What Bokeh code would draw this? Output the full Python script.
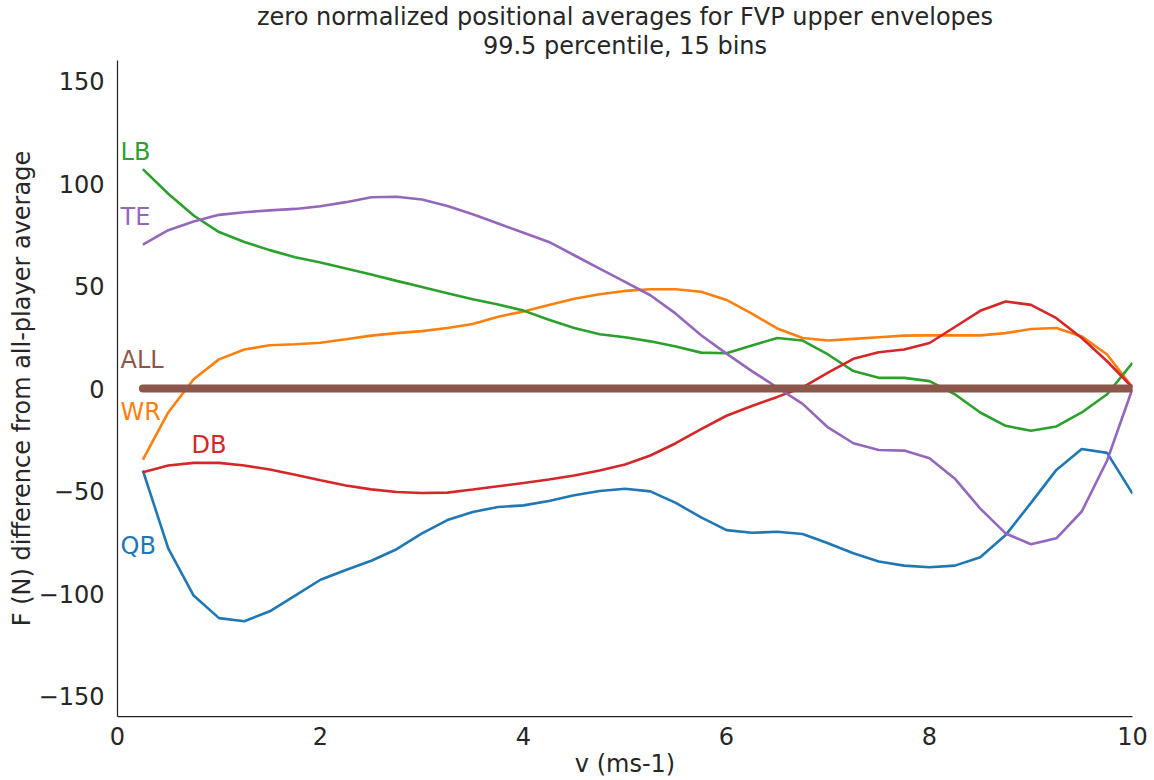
from bokeh.plotting import figure
from bokeh.models import Range1d, FixedTicker, Title
from bokeh.core.properties import value
from bokeh.embed import file_html
from bokeh.resources import INLINE

# ---- data ----
v = [0.25, 0.5, 0.75, 1.0, 1.25, 1.5, 1.75, 2.0, 2.25, 2.5,
     2.75, 3.0, 3.25, 3.5, 3.75, 4.0, 4.25, 4.5, 4.75, 5.0,
     5.25, 5.5, 5.75, 6.0, 6.25, 6.5, 6.75, 7.0, 7.25, 7.5,
     7.75, 8.0, 8.25, 8.5, 8.75, 9.0, 9.25, 9.5, 9.75, 10.0]

qb = [-40, -78, -101, -112, -113.5, -108.7, -101, -93.3, -88.5, -84,
      -78.4, -70.7, -64.2, -60.2, -57.8, -57, -54.9, -52.1, -50, -48.9,
      -50.2, -55.8, -62.9, -69.1, -70.4, -69.9, -71, -75.5, -80.4, -84.4,
      -86.4, -87.2, -86.4, -82.3, -71.5, -55.8, -39.7, -29.5, -31.4, -51.3]

wr = [-34.7, -11.7, 4.5, 14.2, 19, 21.1, 21.6, 22.3, 24, 25.8,
      27, 28, 29.5, 31.5, 35, 37.6, 40.7, 43.8, 46, 47.6,
      48.4, 48.4, 47.2, 43.2, 36.5, 29.3, 24.6, 23.4, 24.2, 25,
      25.8, 25.9, 25.9, 25.9, 27, 29, 29.5, 25.4, 16.6, 0.5]

lb = [107, 95, 84.4, 76.3, 71.5, 67.5, 64, 61.5, 58.5, 55.6,
      52.5, 49.5, 46.5, 43.5, 41, 38, 33.5, 29.5, 26.5, 25,
      23, 20.5, 17.5, 17.2, 21, 24.6, 23.4, 16.6, 8.5, 5.2,
      5.2, 3.6, -2.8, -11.7, -18.2, -20.6, -18.5, -11.7, -2.8, 12.5]

db = [-40.8, -37.6, -36.3, -36.3, -37.6, -39.5, -42.1, -44.8, -47.3, -49.2,
      -50.5, -51, -50.8, -49.3, -47.7, -46.1, -44.4, -42.4, -40, -37.1,
      -32.7, -26.7, -19.8, -13.3, -8.5, -4.1, 0.5, 7.7, 14.5, 17.7,
      19, 22.2, 30, 37.9, 42.4, 40.8, 34.3, 24.6, 13.3, 0.5]

te = [70.2, 77.2, 81.5, 84.7, 86, 86.9, 87.6, 88.9, 90.9, 93.3,
      93.5, 92.2, 89, 85, 80.5, 76, 71.5, 65, 58.5, 52,
      45.5, 36.5, 26, 17, 8.5, 0.5, -7.5, -19, -26.7, -30,
      -30.3, -34, -44, -58.6, -70.7, -76, -73.1, -60, -35.1, 0]

all_avg = [0.0] * 40

series_names = ["QB", "WR", "LB", "DB", "TE", "ALL"]
series_colors = ["#1f77b4", "#ff7f0e", "#2ca02c", "#d62728", "#9467bd", "#8c564b"]

label_text = ["LB", "TE", "ALL", "WR", "DB", "QB"]
label_x = [0.03, 0.03, 0.03, 0.03, 0.73, 0.03]
label_y = [115.5, 83.6, 13.8, -11.4, -27.6, -77.0]
label_color = ["#2ca02c", "#9467bd", "#8c564b", "#ff7f0e", "#d62728", "#1f77b4"]

x_ticks = [0, 2, 4, 6, 8, 10]
y_ticks = [-150, -100, -50, 0, 50, 100, 150]

title_lines = ["zero normalized positional averages for FVP upper envelopes",
               "99.5 percentile, 15 bins"]
x_label = "v (ms-1)"
y_label = "F (N) difference from all-player average"

TXT = "#262626"
FONT = "DejaVu Sans"
FS = "24px"

p = figure(width=1154, height=780, output_backend="svg", toolbar_location=None,
           x_range=Range1d(0, 10), y_range=Range1d(-160, 160),
           min_border_left=117, min_border_right=22, min_border_top=60, min_border_bottom=63)

# main title (outer line) and second line
p.title.text = title_lines[0]
p.title.align = "center"
p.title.text_font = FONT
p.title.text_font_size = FS
p.title.text_font_style = "normal"
p.title.text_color = TXT
p.title.standoff = -2
p.add_layout(Title(text=title_lines[1], align="center", text_font=FONT, text_font_size=FS,
                   text_font_style="normal", text_color=TXT, standoff=1), "above")

p.outline_line_color = None
p.xgrid.visible = False
p.ygrid.visible = False
p.background_fill_color = "white"
p.border_fill_color = "white"

for ax in (p.xaxis[0], p.yaxis[0]):
    ax.axis_line_color = TXT
    ax.axis_line_width = 1.25
    ax.major_tick_line_color = None
    ax.minor_tick_line_color = None
    ax.major_label_text_font = FONT
    ax.major_label_text_font_size = FS
    ax.major_label_text_color = TXT
    ax.axis_label_text_font = FONT
    ax.axis_label_text_font_size = FS
    ax.axis_label_text_font_style = "normal"
    ax.axis_label_text_color = TXT

p.xaxis.ticker = FixedTicker(ticks=x_ticks)
p.yaxis.ticker = FixedTicker(ticks=y_ticks)
p.yaxis.major_label_overrides = {t: (str(t).replace("-", "\u2212")) for t in y_ticks}
p.xaxis.axis_label = x_label
p.yaxis.axis_label = y_label
p.yaxis.major_label_standoff = 7
p.yaxis.axis_label_standoff = 0
p.xaxis.major_label_standoff = 4
p.xaxis.axis_label_standoff = 2

data = [qb, wr, lb, db, te]
for ys, name, col in zip(data, series_names[:5], series_colors[:5]):
    p.line(v, ys, line_color=col, line_width=2.6)
p.line(v, all_avg, line_color=series_colors[5], line_width=8, line_cap="round")

p.text(x=label_x, y=label_y, text=label_text, text_color=label_color,
       text_font=value(FONT), text_font_size=FS,
       text_baseline="middle", text_align="left")

open("out.html", "w").write(file_html(p, INLINE))
